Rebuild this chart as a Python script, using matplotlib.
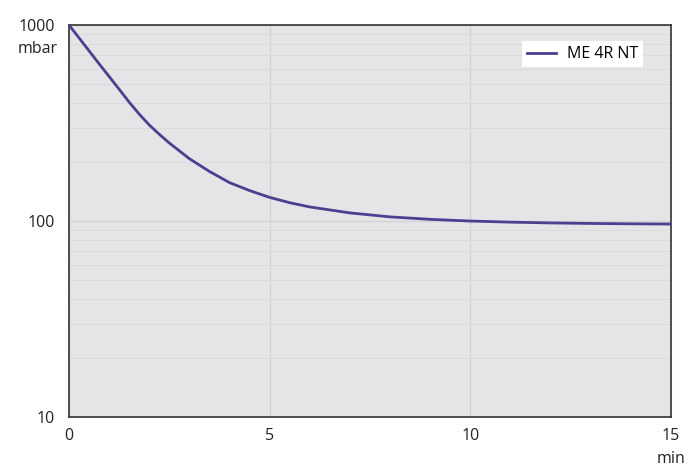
import matplotlib
matplotlib.use("Agg")
import matplotlib.pyplot as plt
from matplotlib.ticker import FixedLocator, NullFormatter

# pump-down curve
time_min = [0, 0.25, 0.5, 0.75, 1, 1.25, 1.5, 1.75, 2, 2.25, 2.5, 2.75, 3, 3.5, 4, 4.5,
            5, 5.5, 6, 7, 8, 9, 10, 11, 12, 13, 14, 15]
pressure_mbar = [1000, 859, 738, 634, 546, 470, 404, 351, 309, 277, 250, 228, 208, 179,
                 157, 143, 132, 124, 118, 110, 105, 102, 100, 98.7, 97.8, 97.2, 96.8, 96.5]
series_name = "ME 4R NT"
x_ticks = [0, 5, 10, 15]
y_ticks = [10, 100, 1000]

plt.rcParams["font.family"] = ["Open Sans", "DejaVu Sans"]

fig = plt.figure(figsize=(7, 4.67), dpi=100)
ax = fig.add_axes([0.0986, 0.107, 0.86, 0.8394])
ax.set_facecolor("#e4e5e7")

ax.plot(time_min, pressure_mbar, color="#4b3f8f", lw=2.0, label=series_name, zorder=3)

ax.set_yscale("log")
ax.set_xlim(0, 15)
ax.set_ylim(10, 1000)

ax.xaxis.set_major_locator(FixedLocator(x_ticks))
ax.yaxis.set_major_locator(FixedLocator(y_ticks))
ax.set_yticklabels([str(v) for v in y_ticks])
minor_y = [m * d for d in (10, 100) for m in range(2, 10)]
ax.yaxis.set_minor_locator(FixedLocator(minor_y))
ax.yaxis.set_minor_formatter(NullFormatter())

ax.grid(True, which="major", color="#d2d3d5", lw=1.0, zorder=1)
ax.grid(True, which="minor", axis="y", color="#dadbdd", lw=0.7, zorder=1)
ax.tick_params(which="both", length=0, labelsize=11.5, colors="#222222")
ax.tick_params(axis="x", pad=8)
ax.tick_params(axis="y", pad=10)

for s in ax.spines.values():
    s.set_color("#333333")
    s.set_linewidth(1.2)

ax.text(-0.018, 0.94, "mbar", transform=ax.transAxes, ha="right", va="center",
        fontsize=11.5, color="#222222")
ax.text(1.0, -0.107, "min", transform=ax.transAxes, ha="center", va="center",
        fontsize=11.5, color="#222222")

leg = ax.legend(loc="upper right", bbox_to_anchor=(0.953, 0.958), frameon=True,
                fancybox=False, edgecolor="white", facecolor="white", framealpha=1,
                fontsize=11.5, handlelength=1.8, handletextpad=0.7, borderpad=0.3,
                borderaxespad=0)
leg.get_frame().set_linewidth(0)

fig.savefig("out.png", dpi=100)
